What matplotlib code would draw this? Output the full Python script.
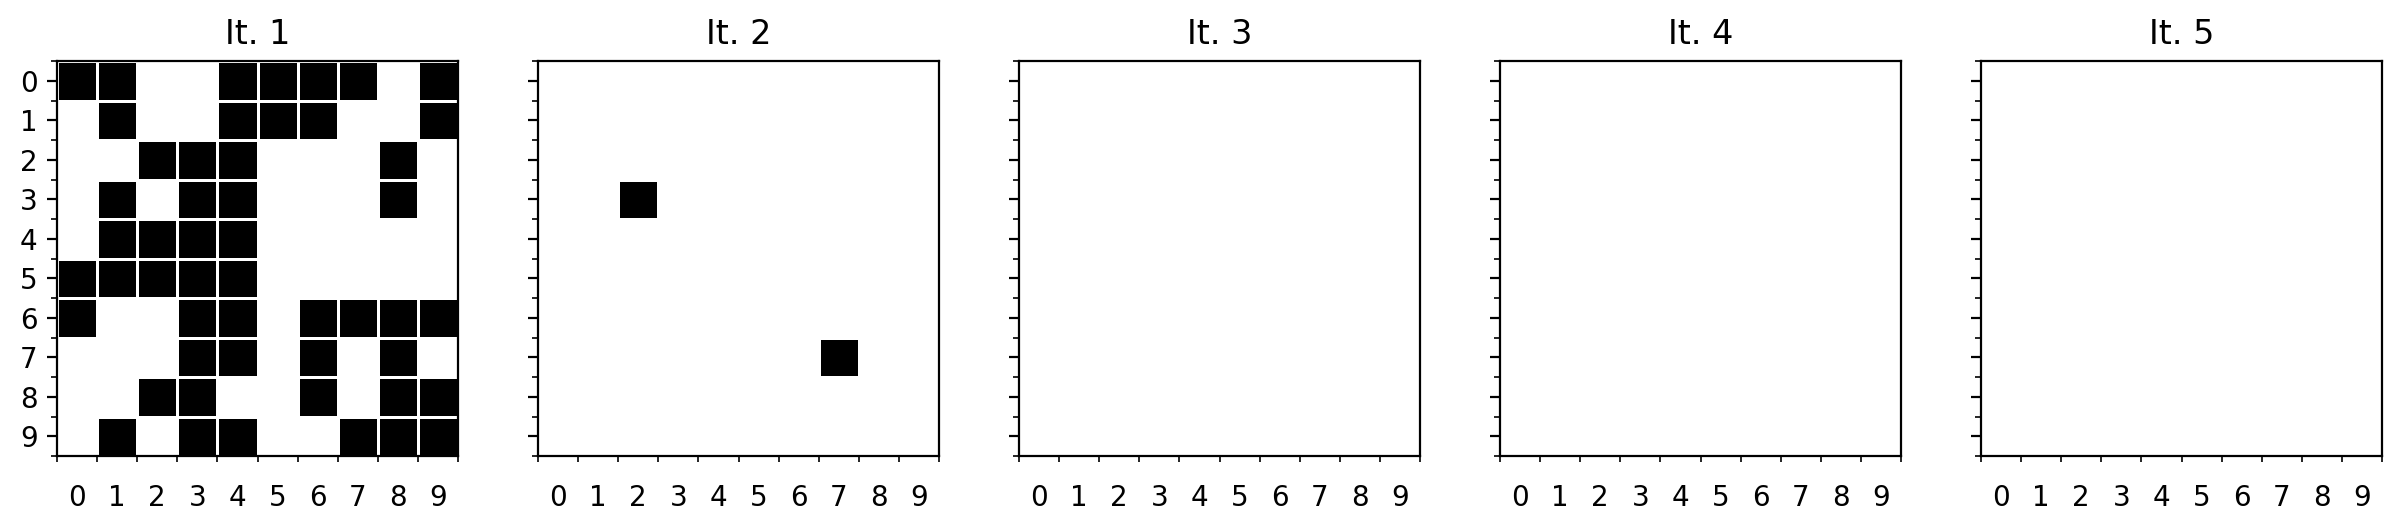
import numpy as np
import matplotlib
matplotlib.use('Agg')
import matplotlib.pyplot as plt

# cell states per iteration (1 = black / alive, 0 = white)
grid_it1 = [
    [1, 1, 0, 0, 1, 1, 1, 1, 0, 1],
    [0, 1, 0, 0, 1, 1, 1, 0, 0, 1],
    [0, 0, 1, 1, 1, 0, 0, 0, 1, 0],
    [0, 1, 0, 1, 1, 0, 0, 0, 1, 0],
    [0, 1, 1, 1, 1, 0, 0, 0, 0, 0],
    [1, 1, 1, 1, 1, 0, 0, 0, 0, 0],
    [1, 0, 0, 1, 1, 0, 1, 1, 1, 1],
    [0, 0, 0, 1, 1, 0, 1, 0, 1, 0],
    [0, 0, 1, 1, 0, 0, 1, 0, 1, 1],
    [0, 1, 0, 1, 1, 0, 0, 1, 1, 1],
]
grid_it2 = [
    [0, 0, 0, 0, 0, 0, 0, 0, 0, 0],
    [0, 0, 0, 0, 0, 0, 0, 0, 0, 0],
    [0, 0, 0, 0, 0, 0, 0, 0, 0, 0],
    [0, 0, 1, 0, 0, 0, 0, 0, 0, 0],
    [0, 0, 0, 0, 0, 0, 0, 0, 0, 0],
    [0, 0, 0, 0, 0, 0, 0, 0, 0, 0],
    [0, 0, 0, 0, 0, 0, 0, 0, 0, 0],
    [0, 0, 0, 0, 0, 0, 0, 1, 0, 0],
    [0, 0, 0, 0, 0, 0, 0, 0, 0, 0],
    [0, 0, 0, 0, 0, 0, 0, 0, 0, 0],
]
grid_empty = [[0] * 10 for _ in range(10)]
grids = [grid_it1, grid_it2, grid_empty, grid_empty, grid_empty]
titles = ['It. 1', 'It. 2', 'It. 3', 'It. 4', 'It. 5']
tick_labels = [str(i) for i in range(10)]

fig = plt.figure(figsize=(12.01, 2.65), dpi=200)
W, H = 2402, 530
axes = []
for i, (grid, title) in enumerate(zip(grids, titles)):
    left = 57 + i * 481
    ax = fig.add_axes([left / W, (H - 456) / H, 401 / W, 395 / H])
    n = len(grid)
    ax.pcolormesh(np.arange(n + 1), np.arange(n + 1), np.array(grid),
                  cmap='gray_r', vmin=0, vmax=1, edgecolors='w', linewidth=1)
    ax.set_xlim(0, n)
    ax.set_ylim(n, 0)
    centers = np.arange(n) + 0.5
    ax.set_xticks(centers)
    ax.set_xticklabels(tick_labels)
    ax.set_xticks(np.arange(n + 1), minor=True)
    ax.set_yticks(centers)
    ax.set_yticks(np.arange(n + 1), minor=True)
    if i == 0:
        ax.set_yticklabels(tick_labels)
    else:
        ax.set_yticklabels([])
    ax.tick_params(axis='x', which='major', color='none', pad=6.5)
    ax.set_title(title)
    axes.append(ax)

fig.savefig('out.png', dpi=200)
